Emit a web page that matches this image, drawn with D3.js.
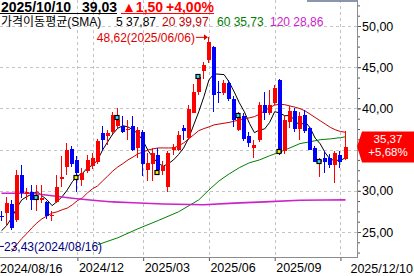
<!DOCTYPE html>
<html>
<head>
<meta charset="utf-8">
<script src="https://cdn.jsdelivr.net/npm/d3@7"></script>
<style>
  html, body { margin: 0; padding: 0; background: #fff; }
  svg { display: block; }
</style>
</head>
<body>
<svg id="chart" width="414" height="276"></svg>
<script>
// weekly candles, index 0 = first visible week (2024/08) ... 68 = 2025/12/10
const OPEN = [
    27.0, 27.3, 28.4, 26.4, 31.9, 29.6, 29.8, 28.9, 28.9, 28.7,
    26.9, 28.7, 31.4, 32.9, 35.05, 33.7, 31.3, 32.35, 32.95, 33.55,
    37.0, 36.6, 37.15, 37.9, 37.9, 37.35, 37.9, 35.2, 37.1, 32.55,
    33.3, 34.4, 32.45, 30.5, 34.9, 35.0, 37.6, 36.4, 39.4, 42.0,
    44.5, 45.9, 47.5, 42.0, 41.85, 43.05, 41.2, 37.4, 39.1, 36.6,
    35.2, 36.2, 40.4, 39.4, 40.6, 43.45, 34.8, 38.4, 39.7, 37.53,
    39.2, 37.6, 35.2, 33.5, 34.0, 34.0, 33.15, 34.4, 33.8
];
const HIGH = [
    27.5, 29.3, 28.9, 32.5, 33.15, 30.4, 30.7, 30.7, 30.7, 28.8,
    27.6, 31.9, 34.2, 35.8, 35.4, 34.2, 32.8, 34.4, 34.6, 36.3,
    37.9, 37.4, 39.6, 40.0, 39.1, 38.6, 39.1, 37.8, 37.4, 34.6,
    35.2, 35.2, 33.6, 34.8, 35.7, 37.2, 38.0, 40.4, 43.0, 44.2,
    45.6, 48.62, 47.6, 43.3, 43.5, 43.4, 41.5, 39.6, 39.5, 37.1,
    36.2, 40.8, 41.95, 42.2, 42.9, 43.6, 39.1, 40.3, 40.0, 39.6,
    39.8, 37.8, 35.4, 34.0, 34.8, 34.5, 34.8, 34.8, 37.2
];
const LOW = [
    26.3, 25.9, 25.2, 26.2, 29.1, 28.9, 27.7, 27.5, 28.5, 26.6,
    26.3, 28.5, 30.5, 31.9, 32.9, 29.9, 30.6, 32.1, 32.6, 33.3,
    35.0, 35.6, 36.9, 37.6, 37.0, 36.2, 34.8, 34.0, 31.8, 31.2,
    31.2, 32.3, 31.9, 29.9, 34.3, 34.8, 36.2, 36.2, 39.4, 41.6,
    43.6, 45.5, 39.6, 40.7, 41.6, 40.9, 37.8, 37.2, 36.1, 35.3,
    34.0, 35.9, 38.6, 39.2, 40.4, 34.4, 34.5, 37.6, 37.1, 36.2,
    37.0, 34.9, 33.5, 31.7, 32.2, 32.8, 30.9, 32.8, 33.7
];
const CLOSE = [
    26.8, 28.5, 25.5, 31.9, 29.7, 29.9, 28.9, 29.4, 29.1, 26.9,
    27.1, 30.5, 31.7, 35.0, 33.3, 32.15, 32.2, 33.75, 33.96, 36.0,
    36.2, 37.0, 39.2, 38.6, 37.1, 37.5, 34.96, 37.4, 33.3, 33.4,
    34.6, 32.55, 33.0, 34.6, 35.3, 36.8, 37.2, 39.9, 42.0, 43.85,
    45.3, 48.1, 41.6, 41.85, 43.05, 41.2, 38.6, 39.0, 36.3, 35.8,
    35.5, 40.4, 39.4, 40.4, 42.45, 34.6, 38.6, 39.7, 37.53, 39.03,
    37.2, 34.96, 33.55, 33.7, 33.55, 33.15, 34.6, 33.47, 35.37
];

const MA5 = [
    25.15, 25.76, 26.7, 27.9, 28.9, 29.3, 29.6, 29.9, 29.4, 28.9,
    28.2, 28.7, 29.3, 30.1, 31.1, 31.8, 32.1, 32.8, 33.1, 33.75,
    34.97, 35.95, 36.9, 37.6, 37.9, 37.75, 37.4, 36.9, 36.05, 34.85,
    34.0, 33.3, 33.0, 33.3, 33.75, 34.4, 35.2, 36.4, 38.0, 39.6,
    41.4, 43.45, 44.2, 44.15, 44.1, 43.2, 42.0, 40.7, 39.6, 38.2,
    37.05, 37.4, 37.5, 38.3, 39.6, 39.45, 39.1, 39.15, 38.55, 37.87,
    38.4, 37.65, 36.4, 35.7, 34.6, 33.8, 33.7, 33.7, 34.0
];
const MA20 = [
    null, null, 22.6, 23.45, 24.2, 24.8, 25.5, 26.1, 26.6, 26.95,
    27.3, 27.45, 27.7, 27.9, 28.3, 28.8, 29.15, 29.75, 30.25, 30.6,
    31.2, 31.8, 32.4, 32.9, 33.3, 33.75, 34.1, 34.5, 34.7, 34.95,
    35.1, 35.2, 35.2, 35.2, 35.2, 35.45, 35.8, 36.3, 36.8, 37.3,
    37.55, 37.75, 38.0, 38.1, 38.2, 38.3, 38.45, 38.6, 38.75, 38.85,
    39.0, 39.3, 39.7, 40.1, 40.4, 40.5, 40.45, 40.3, 40.15, 39.97,
    39.7, 39.3, 38.9, 38.5, 38.1, 37.7, 37.4, 37.2, 37.1
];
// [week index, value] read along the slower averages
const MA60 = [
    [19, 23.45], [23, 24.3], [27, 25.4], [31, 26.4], [35, 27.45], [39, 28.9],
    [41, 30.1], [43, 31.2], [45, 32.05], [47, 32.8], [49, 33.4], [51, 33.75],
    [53, 34.25], [55, 34.7], [57, 35.2], [59, 35.73], [61, 35.95], [63, 36.2],
    [65, 36.3], [67, 36.45], [68, 36.55]
];
const MA120 = [
    [0, 29.7], [6, 29.7], [10, 29.4], [14, 29.1], [18, 28.85], [22, 28.65],
    [26, 28.55], [32, 28.4], [40, 28.3], [46, 28.5], [52, 28.65], [59, 28.86],
    [64, 28.88], [68, 28.9]
];

const CYAN_IDX = [7, 23, 39, 47, 63];
const CYAN_VAL = [29.15, 38.85, 43.8, 39.1, 33.5];
const YELLOW_IDX = [15, 31, 55];
const YELLOW_VAL = [31.6, 32.2, 34.7];

const Y_TICKS = [25, 30, 35, 40, 45, 50];
const X_TICKS = [15, 28, 41, 54, 67];
const X_LABELS = ['2024/12', '2025/03', '2025/06', '2025/09', ''];
const X_GRID = [15, 18, 28, 41, 54, 67];
const RANGE_LABELS = ['2024/08/16', '2025/12/10'];

const HIGH_MARK = {idx: 41, value: 48.62, label: '48,62(2025/06/06)'};
const LOW_MARK = {value: 23.43, label: '23,43(2024/08/16)'};
const LAST_TAG = ['35,37', '+5,68%'];

const HEAD_DATE = '2025/10/10';
const HEAD_PRICE = '39,03';
const HEAD_CHANGE = ['▲1,50', '+4,00%'];
const MA_TITLE = '가격이동평균(SMA)';
const MA_LEGEND = ['5 37,87', '20 39,97', '60 35,73', '120 28,86'];

const FONT = '"Liberation Sans", Arial, "Noto Sans CJK KR", sans-serif';
const RED = '#ff0000', BLUE = '#0000ff';
const MA_COLORS = ['#000000', '#c40000', '#008000', '#cc22cc'];

class CandleChart {
    constructor(el) {
        this.svg = d3.select(el);
        this.plot = {right: 357, bottom: 257};
    }

    render() {
        this._setScales();
        this._renderGrid();
        const g = this.svg.append('g').attr('clip-path', 'url(#plotClip)');
        this._renderAverages(g);
        this._renderCandles(g);
        this._renderMarkers(g);
        this._renderAxes();
        this._renderExtremes();
        this._renderTag();
        this._renderHeader();
    }

    _setScales() {
        this.x = d3.scaleLinear().domain([0, 68]).range([1.5, 345.5]);
        this.y = d3.scaleLinear().domain([25, 50]).range([232, 26]);
        this.svg.append('clipPath').attr('id', 'plotClip')
            .append('rect').attr('width', this.plot.right).attr('height', this.plot.bottom);
    }

    _renderGrid() {
        const grid = this.svg.append('g')
            .attr('stroke', '#c4c4c4')
            .attr('stroke-dasharray', '3,3')
            .attr('shape-rendering', 'crispEdges');
        grid.selectAll('.h').data(Y_TICKS).enter().append('line')
            .attr('x1', 0).attr('x2', this.plot.right)
            .attr('y1', d => Math.round(this.y(d)) + 0.5)
            .attr('y2', d => Math.round(this.y(d)) + 0.5);
        grid.selectAll('.v').data(X_GRID).enter().append('line')
            .attr('y1', 0).attr('y2', this.plot.bottom)
            .attr('x1', d => Math.round(this.x(d)) + 0.5)
            .attr('x2', d => Math.round(this.x(d)) + 0.5);
    }

    _renderAverages(g) {
        const line = d3.line().x(d => this.x(d[0])).y(d => this.y(d[1]));
        const series = [
            MA5.map((v, i) => [i, v]),
            MA20.map((v, i) => [i, v]).filter(d => d[1] !== null),
            MA60,
            MA120
        ];
        series.forEach((data, k) => {
            g.append('path')
                .attr('d', line(data))
                .attr('fill', 'none')
                .attr('stroke', MA_COLORS[k])
                .attr('stroke-width', k === 3 ? 1.6 : 1);
        });
    }

    _renderCandles(g) {
        const idx = d3.range(OPEN.length);
        const color = i => CLOSE[i] >= OPEN[i] ? RED : BLUE;
        const candle = g.selectAll('.candle').data(idx).enter().append('g')
            .attr('class', 'candle')
            .attr('shape-rendering', 'crispEdges');
        candle.append('line')
            .attr('x1', i => Math.round(this.x(i)) - 0.5)
            .attr('x2', i => Math.round(this.x(i)) - 0.5)
            .attr('y1', i => this.y(HIGH[i]))
            .attr('y2', i => this.y(LOW[i]))
            .attr('stroke', color);
        candle.append('rect')
            .attr('x', i => Math.round(this.x(i)) - 2)
            .attr('width', 4)
            .attr('y', i => this.y(Math.max(OPEN[i], CLOSE[i])))
            .attr('height', i => Math.max(1, Math.abs(this.y(OPEN[i]) - this.y(CLOSE[i]))))
            .attr('fill', color);
    }

    _renderMarkers(g) {
        const put = (ids, vals, fill) => {
            g.selectAll(null).data(ids).enter().append('rect')
                .attr('x', d => Math.round(this.x(d)) - 3)
                .attr('y', (d, k) => Math.round(this.y(vals[k])) - 2.5)
                .attr('width', 4).attr('height', 4)
                .attr('fill', fill).attr('stroke', '#000').attr('stroke-width', 1.2);
        };
        put(CYAN_IDX, CYAN_VAL, '#33e0ff');
        put(YELLOW_IDX, YELLOW_VAL, '#ffee00');
    }

    _renderAxes() {
        const {right, bottom} = this.plot;
        const tagY = this.y(CLOSE[CLOSE.length - 1]);
        // the last-price tag covers the label it sits on
        const fmt = d => Math.abs(this.y(d) - tagY) < 14 ? '' : d3.format('.2f')(d).replace('.', ',');

        this.svg.append('g')
            .attr('transform', `translate(${right},0)`)
            .call(d3.axisRight(this.y).tickValues(d3.range(22.5, 53, 1.25)).tickSize(3).tickFormat(''))
            .call(g => g.select('.domain').remove());
        this.svg.append('g')
            .attr('transform', `translate(${right},0)`)
            .call(d3.axisRight(this.y).tickValues(Y_TICKS).tickSize(4).tickPadding(1).tickFormat(fmt))
            .call(g => g.select('.domain').remove())
            .call(g => g.selectAll('text').attr('font-family', FONT).attr('font-size', 12.5).attr('fill', '#000'));

        this.svg.append('g')
            .attr('transform', `translate(0,${bottom})`)
            .call(d3.axisBottom(this.x).tickValues(X_TICKS).tickSize(4).tickPadding(2)
                .tickFormat((d, i) => X_LABELS[i]))
            .call(g => g.select('.domain').remove())
            .call(g => g.selectAll('text').attr('text-anchor', 'start').attr('x', 1)
                .attr('font-family', FONT).attr('font-size', 12.5).attr('fill', '#000'));

        this.svg.append('text').text(RANGE_LABELS[0])
            .attr('x', 0).attr('y', 273)
            .attr('font-family', FONT).attr('font-size', 12.5);
        this.svg.append('text').text(RANGE_LABELS[1])
            .attr('x', 413).attr('y', 273).attr('text-anchor', 'end')
            .attr('font-family', FONT).attr('font-size', 12.5);

        this.svg.selectAll('.tick line').attr('stroke', '#555');
        this.svg.append('line')
            .attr('x1', 0).attr('x2', right).attr('y1', bottom + 0.5).attr('y2', bottom + 0.5)
            .attr('stroke', '#8c8c8c');
        this.svg.append('line')
            .attr('x1', right + 0.5).attr('x2', right + 0.5).attr('y1', 0).attr('y2', bottom + 1)
            .attr('stroke', '#8c8c8c');
    }

    _renderExtremes() {
        const hx = this.x(HIGH_MARK.idx), hy = this.y(HIGH_MARK.value);
        this.svg.append('text').text(HIGH_MARK.label)
            .attr('x', hx - 14).attr('y', hy + 4.5)
            .attr('text-anchor', 'end')
            .attr('font-family', FONT).attr('font-size', 12).attr('fill', '#e00000');
        this.svg.append('line')
            .attr('x1', hx - 13).attr('x2', hx - 2).attr('y1', hy).attr('y2', hy)
            .attr('stroke', '#e00000');
        this.svg.append('path')
            .attr('d', `M${hx - 1},${hy} l-4,-3 v6 z`)
            .attr('fill', '#e00000');

        const ly = this.y(LOW_MARK.value);
        this.svg.append('line')
            .attr('x1', 0).attr('x2', 4).attr('y1', ly + 1.5).attr('y2', ly + 1.5)
            .attr('stroke', '#000080');
        this.svg.append('text').text(LOW_MARK.label)
            .attr('x', 4).attr('y', ly + 6)
            .attr('font-family', FONT).attr('font-size', 12).attr('fill', '#000080');
    }

    _renderTag() {
        const ty = this.y(CLOSE[CLOSE.length - 1]);
        const left = this.plot.right;
        this.svg.append('path')
            .attr('d', `M${left},${ty} L${left + 5},${ty - 15} H414 V${ty + 16} H${left + 5} Z`)
            .attr('fill', RED);
        this.svg.selectAll('.tagText').data(LAST_TAG).enter().append('text')
            .text(d => d)
            .attr('x', 388).attr('y', (d, i) => ty - 3.5 + i * 13)
            .attr('text-anchor', 'middle')
            .attr('font-family', FONT).attr('font-size', 11.5).attr('fill', '#fff');
    }

    _renderHeader() {
        const head = this.svg.append('g').attr('font-weight', 'bold')
            .attr('font-family', FONT).attr('font-size', 14);
        head.append('text').text(HEAD_DATE).attr('x', 1).attr('y', 12);
        head.append('text').text(HEAD_PRICE).attr('x', 82).attr('y', 12);
        head.append('text').text(HEAD_CHANGE[0]).attr('x', 122).attr('y', 12).attr('fill', RED);
        head.append('text').text(HEAD_CHANGE[1]).attr('x', 166).attr('y', 12).attr('fill', RED);
        this.svg.append('line').attr('x1', 0).attr('x2', 117).attr('y1', 13.5).attr('y2', 13.5).attr('stroke', '#000');
        this.svg.append('line').attr('x1', 121).attr('x2', 214).attr('y1', 13.5).attr('y2', 13.5).attr('stroke', RED);
        this.svg.append('rect').attr('x', 307).attr('y', 0).attr('width', 50).attr('height', 2).attr('fill', '#8a96ac');

        const legend = this.svg.append('g').attr('font-family', FONT).attr('font-size', 12);
        legend.append('text').text(MA_TITLE).attr('x', 1).attr('y', 26);
        const xs = [116, 162, 217, 270];
        MA_LEGEND.forEach((t, k) => {
            legend.append('text').text(t).attr('x', xs[k]).attr('y', 26).attr('fill', MA_COLORS[k]);
        });
    }
}

new CandleChart('#chart').render();
</script>
</body>
</html>
